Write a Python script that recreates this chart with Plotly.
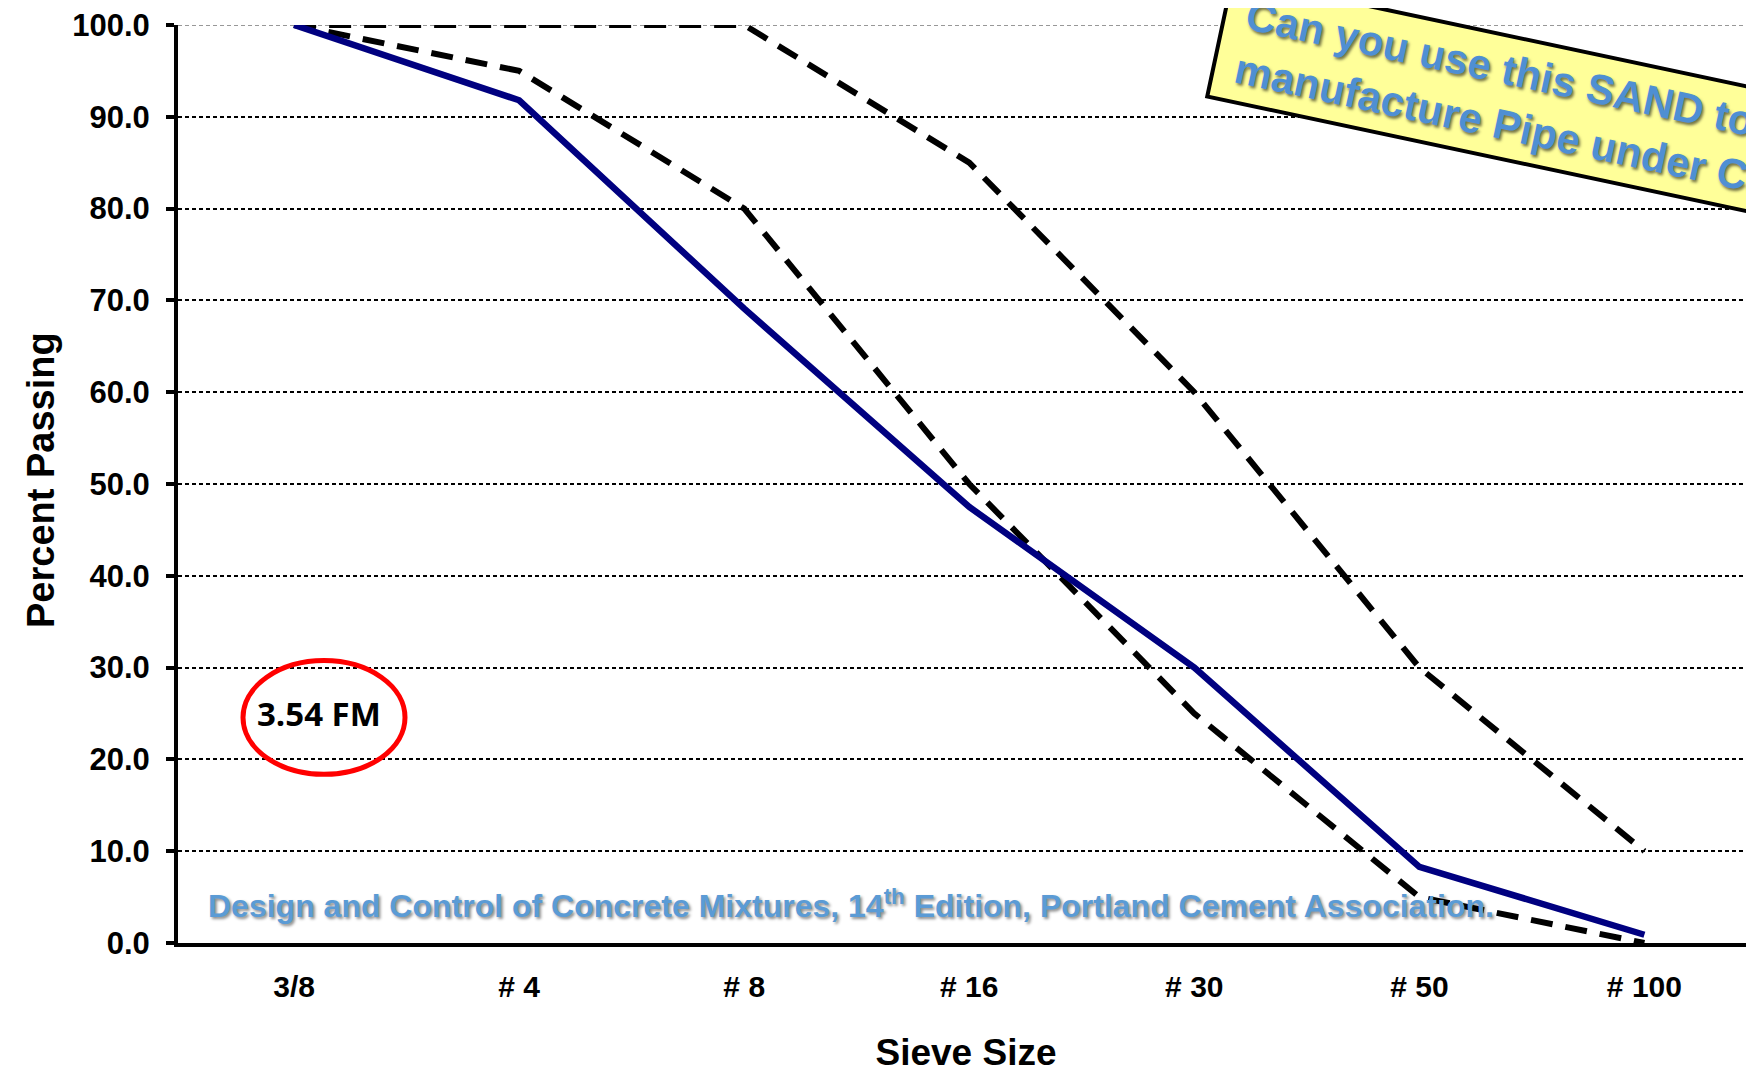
import plotly.graph_objects as go

sieves = ["3/8", "# 4", "# 8", "# 16", "# 30", "# 50", "# 100"]
sand_passing = [100.0, 91.8, 69.1, 47.5, 30.0, 8.3, 0.9]
lower_limit = [100, 95, 80, 50, 25, 5, 0]
upper_limit = [100, 100, 100, 85, 60, 30, 10]
y_ticks = [0, 10, 20, 30, 40, 50, 60, 70, 80, 90, 100]

# page body has an 8px margin; figure is sized so it reaches the window edge
OFF = 8
W, H = 1746, 1066
ML, MR, MT, MB = 170, 0, 15, 131
pw = W - ML - MR
ph = H - MT - MB


def px(xs):
    return (xs - OFF - ML) / pw


def py(ys):
    return (H - MB - (ys - OFF)) / ph


fig = go.Figure()
xi = list(range(len(sieves)))
for ys in (upper_limit, lower_limit):
    fig.add_trace(go.Scatter(x=xi, y=ys, mode="lines", cliponaxis=False,
                             line=dict(color="black", width=6, dash="22px,13px"),
                             showlegend=False, hoverinfo="skip"))
fig.add_trace(go.Scatter(x=xi, y=sand_passing, mode="lines", cliponaxis=False,
                         line=dict(color="#000080", width=6.5),
                         showlegend=False))

fig.update_layout(
    width=W, height=H,
    margin=dict(l=ML, r=MR, t=MT, b=MB, pad=0),
    paper_bgcolor="white", plot_bgcolor="white",
    font=dict(family="Liberation Sans, Arial", color="black"),
    xaxis=dict(
        range=[-0.516, 6.487], tickmode="array", tickvals=xi,
        ticktext=[f"<b>{s}</b>" for s in sieves],
        showgrid=False, zeroline=False, showline=True, linecolor="black", linewidth=4,
        ticks="", tickfont=dict(size=30), ticklabelstandoff=14,
        title=dict(text="<b>Sieve Size</b>", font=dict(size=37), standoff=38),
    ),
    yaxis=dict(
        range=[0, 100], tickmode="array", tickvals=y_ticks,
        ticktext=[f"<b>{v:.1f}</b>" for v in y_ticks],
        showgrid=True, gridcolor="black", gridwidth=1.5, griddash="4px,3px",
        zeroline=False, showline=True, linecolor="black", linewidth=4,
        ticks="outside", ticklen=8, tickwidth=4, tickcolor="black",
        tickfont=dict(size=31), ticklabelstandoff=10, ticklabeloverflow="allow",
    ),
)

# top grid line at 100 (grey dotted in the original)
fig.add_shape(type="line", xref="paper", yref="y", x0=0, x1=1, y0=100, y1=100,
              layer="below", line=dict(color="#777777", width=1.5, dash="4px,3px"))

# y-axis title
fig.add_annotation(xref="paper", yref="paper", x=px(41), y=py(479),
                   xanchor="center", yanchor="middle", textangle=-90,
                   text="<b>Percent Passing</b>", showarrow=False,
                   font=dict(family="Liberation Sans", size=38, color="black"))

# red ellipse with FM value
fig.add_shape(type="circle", xref="paper", yref="paper",
              x0=px(243), x1=px(405), y0=py(660), y1=py(774),
              line=dict(color="#FF0000", width=5))
fig.add_annotation(xref="paper", yref="paper", x=px(319), y=py(713),
                   xanchor="center", yanchor="middle",
                   text="<b>3.54 FM</b>", showarrow=False,
                   font=dict(family="Open Sans", size=33, color="black"))

# source text
fig.add_annotation(xref="paper", yref="paper", x=px(206), y=py(904),
                   xanchor="left", yanchor="middle",
                   text="<b>Design and Control of Concrete Mixtures, 14<sup>th</sup> Edition, Portland Cement Association.</b>",
                   showarrow=False,
                   font=dict(family="Liberation Sans", size=32,
                             color="#5B9BD5", shadow="2px 2px 3px rgba(0,0,0,0.45)"))

# rotated question box
fig.add_annotation(xref="paper", yref="paper", x=px(1205), y=py(-27),
                   xanchor="left", yanchor="top", textangle=12, align="left",
                   text="<b>&nbsp;Can you use this SAND to<br>&nbsp;manufacture Pipe under C33?</b>",
                   showarrow=False, bgcolor="#FFFF99", bordercolor="black", borderwidth=4,
                   borderpad=8,
                   font=dict(family="Liberation Sans", size=42, color="#4F8FD3",
                             shadow="2px 2px 3px rgba(0,0,0,0.55)"))

fig.write_html("out.html")
